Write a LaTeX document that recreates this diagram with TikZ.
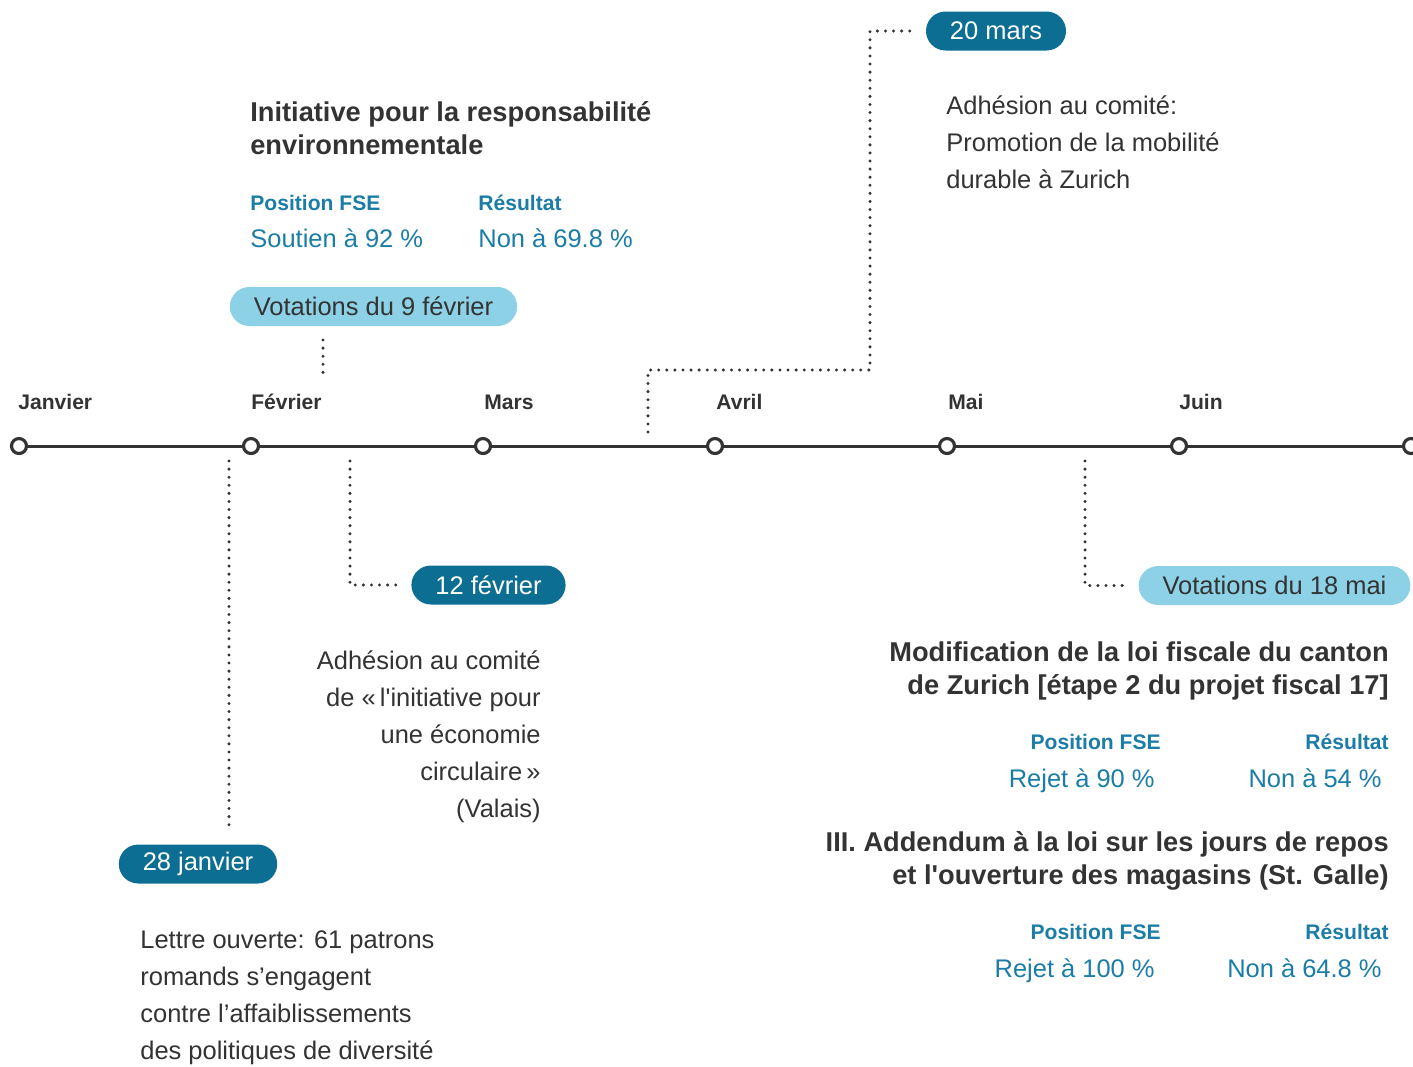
\documentclass[tikz,border=0pt]{standalone}
\usepackage{fontspec}
\setmainfont{Liberation Sans}
\usepackage{tikz}
\usetikzlibrary{positioning}
\usetikzlibrary{calc}

\definecolor{ink}{HTML}{333333}
\definecolor{petrol}{HTML}{0C6E93}
\definecolor{sky}{HTML}{8DD1E6}
\definecolor{fseblue}{HTML}{1B7DA7}

% straight apostrophe, not turned into a curly one
\newcommand{\sq}{\XeTeXglyph\XeTeXcharglyph"0027\relax}

\tikzset{
  month/.style={anchor=base west, inner sep=0pt, text=ink, font=\fontsize{12}{14}\selectfont\bfseries},
  tick/.style={circle, draw=ink, fill=white, line width=1.8pt, minimum size=0.3cm, inner sep=0pt},
  pill/.style={rounded corners=0.39cm, minimum height=0.78cm, inner xsep=0.48cm, inner ysep=0pt, font=\fontsize{14.5}{17}\selectfont},
  darkpill/.style={pill, fill=petrol, text=white},
  lightpill/.style={pill, fill=sky, text=ink},
  dots/.style={draw=ink, line width=1.9pt, line cap=round, dash pattern=on 0pt off 4.6pt},
  body/.style={inner sep=0pt, text=ink, font=\fontsize{14.5}{21}\selectfont},
  heading/.style={inner sep=0pt, text=ink, font=\fontsize{15.5}{18.3}\selectfont\bfseries},
  fsehead/.style={inner sep=0pt, text=fseblue, font=\fontsize{12}{14}\selectfont\bfseries},
  fsevalue/.style={inner sep=0pt, text=fseblue, font=\fontsize{14.5}{17}\selectfont},
}

\begin{document}
\begin{tikzpicture}[x=0.02cm,y=-0.02cm]
\useasboundingbox (0,0) rectangle (1413,1066);

% timeline
\coordinate (start) at (19,446);
\coordinate (stop) at (1413,446);
\draw[ink, line width=1.7pt] (start) -- (stop);
\node[tick] (jan) at (19,446) {};
\node[tick] (feb) at (251,446) {};
\node[tick] (mar) at (483,446) {};
\node[tick] (apr) at (715,446) {};
\node[tick] (may) at (947,446) {};
\node[tick] (jun) at (1179,446) {};
\node[tick] (jul) at (1411,446) {};

\node[month] (janlabel) at (18,409) {Janvier};
\node[month] (feblabel) at (251,409) {Février};
\node[month] (marlabel) at (484,409) {Mars};
\node[month] (aprlabel) at (716,409) {Avril};
\node[month] (maylabel) at (948,409) {Mai};
\node[month] (junlabel) at (1179,409) {Juin};

% 9 fevrier (text nodes sit on the baseline of their last line)
\node[lightpill] (vot9) at (373.5,306.5) {Votations du 9 février};
\coordinate (v9a) at (323,340);
\coordinate (v9b) at (323,378);
\draw[dots] (v9a) -- (v9b);
\node[heading, anchor=base west, align=left] (init) at (250,154)
  {Initiative pour la responsabilité\\environnementale};
\node[fsehead, anchor=base west] (pos9) at (250,210) {Position FSE};
\node[fsehead, anchor=base west] (res9) at (478,210) {Résultat};
\node[fsevalue, anchor=base west] (posval9) at (250,247) {Soutien à 92 \%};
\node[fsevalue, anchor=base west] (resval9) at (478,247) {Non à 69.8 \%};

% 28 janvier
\node[darkpill] (jan28) at (198,864) {28 janvier};
\coordinate (j28a) at (229,461);
\draw[dots, shorten >=0.26cm] (j28a) -- (j28a |- jan28.north);
\node[body, anchor=base west, align=left] (jan28text) at (140,1059)
  {Lettre ouverte: 61 patrons\\romands s’engagent\\contre l’affaiblissements\\des politiques de diversité};

% 12 fevrier
\node[darkpill] (feb12) at (488.5,585) {12 février};
\coordinate (f12a) at (350,461);
\draw[dots] (f12a) |- ([xshift=-0.22cm]feb12.west);
\node[body, anchor=base east, align=right] (feb12text) at (541,817)
  {Adhésion au comité\\de «\,l\sq initiative pour\\une économie\\circulaire\,»\\(Valais)};

% 20 mars
\node[darkpill] (mar20) at (996,31) {20 mars};
\coordinate (m20a) at (648,432);
\coordinate (m20b) at (870,370);
\draw[dots] (m20a) |- (m20b) |- ([xshift=-0.2cm]mar20.west);
\node[body, anchor=base west, align=left] (mar20text) at (946,188)
  {Adhésion au comité:\\Promotion de la mobilité\\durable à Zurich};

% 18 mai
\node[lightpill] (vot18) at (1274.5,585.5) {Votations du 18 mai};
\coordinate (v18a) at (1085,461);
\draw[dots] (v18a) |- ([xshift=-0.22cm]vot18.west);
\node[heading, anchor=base east, align=right] (fisc) at (1389,694)
  {Modification de la loi fiscale du canton\\de Zurich [étape 2 du projet fiscal 17]};
\node[fsehead, anchor=base east] (posfisc) at (1161,749) {Position FSE};
\node[fsehead, anchor=base east] (resfisc) at (1389,749) {Résultat};
\node[fsevalue, anchor=base east] (posvalfisc) at (1155,787) {Rejet à 90 \%};
\node[fsevalue, anchor=base east] (resvalfisc) at (1382,787) {Non à 54 \%};
\node[heading, anchor=base east, align=right] (repos) at (1389,884)
  {III. Addendum à la loi sur les jours de repos\\et l\sq ouverture des magasins (St. Galle)};
\node[fsehead, anchor=base east] (posrepos) at (1161,939) {Position FSE};
\node[fsehead, anchor=base east] (resrepos) at (1389,939) {Résultat};
\node[fsevalue, anchor=base east] (posvalrepos) at (1155,977) {Rejet à 100 \%};
\node[fsevalue, anchor=base east] (resvalrepos) at (1382,977) {Non à 64.8 \%};
\end{tikzpicture}
\end{document}
